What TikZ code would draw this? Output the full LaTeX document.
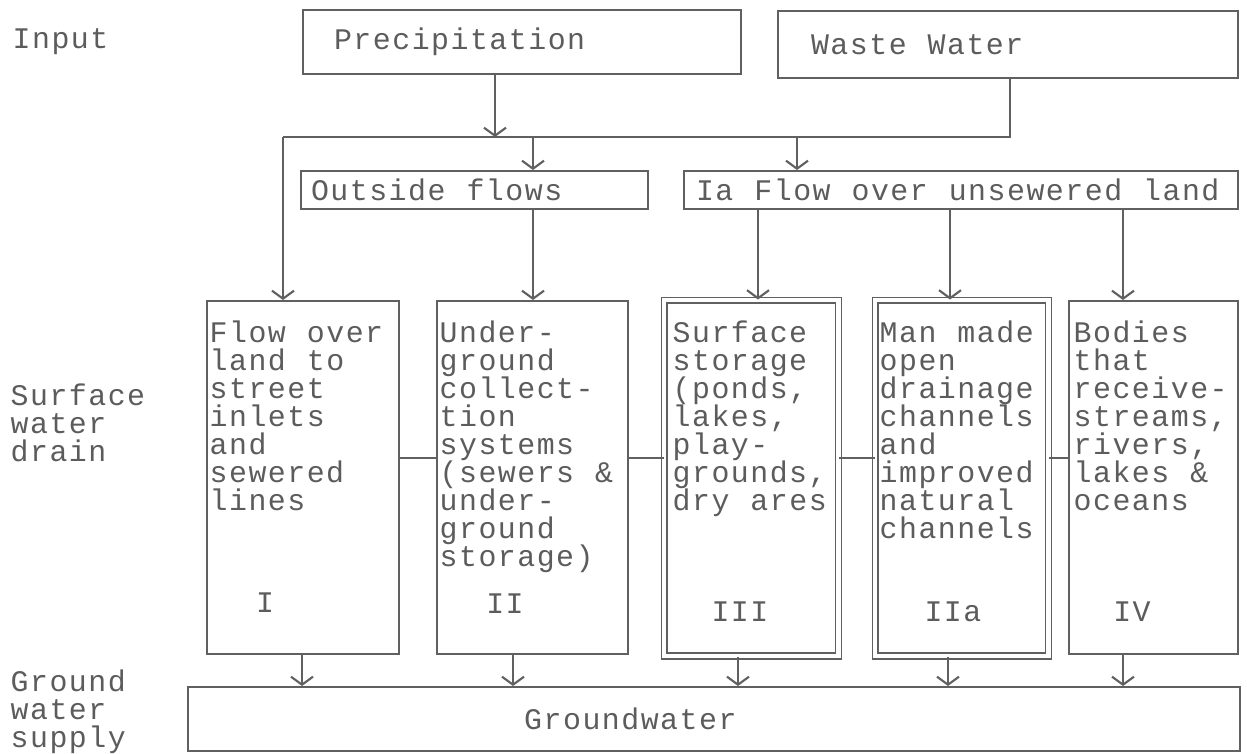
\documentclass[tikz,border=0pt]{standalone}
\usepackage{fontspec}
\setmonofont{Liberation Mono}[LetterSpace=5, WordSpace=1.08]
\usetikzlibrary{arrows.meta}
\definecolor{drainink}{RGB}{92,92,92}
\definecolor{drainline}{RGB}{96,96,96}
\tikzset{
  typed/.style={
    text=drainink,
    font=\ttfamily\fontsize{8.5}{7.97}\selectfont\lineskiplimit-20pt\relax
  },
  inbox/.style={
    typed,
    draw=drainline,
    line width=0.6pt,
    anchor=north west,
    align=flush left,
    inner ysep=0pt
  },
  colbox/.style={
    draw=drainline,
    line width=0.6pt,
    anchor=north west,
    inner sep=0pt,
    minimum height=3.53cm
  },
  storebox/.style={
    colbox,
    double,
    double distance=1.2pt,
    line width=0.5pt,
    minimum height=3.555cm
  },
  boxtext/.style={typed, anchor=north west, inner sep=0pt, align=left},
  sidelabel/.style={typed, anchor=west, inner sep=0pt, align=left},
  numeral/.style={typed, inner sep=0pt},
  arrow/.style={-{Straight Barb[length=0.8mm,width=2.2mm]}, draw=drainline, line width=0.6pt},
  link/.style={draw=drainline, line width=0.6pt}
}

\begin{document}
\begin{tikzpicture}[x=0.01cm,y=-0.01cm]
    \useasboundingbox (0,0) rectangle (1247,754);

    \node[sidelabel] (lblinput) at (12,42) {Input};
    \node[sidelabel] (lblsurface) at (10,423) {Surface\\water\\drain};
    \node[sidelabel] (lblground) at (10,712) {Ground\\water\\supply};

    \node[inbox, text width=3.76cm, inner xsep=0.31cm, minimum height=0.64cm] (precip) at (302,9) {Precipitation};
    \node[inbox, text width=3.94cm, inner xsep=0.33cm, minimum height=0.67cm] (waste) at (777,10) {Waste Water};
    \node[inbox, text width=3.27cm, inner xsep=0.10cm, minimum height=0.38cm] (outside) at (300,170) {Outside flows};
    \node[inbox, text width=5.30cm, inner xsep=0.12cm, minimum height=0.38cm] (unsew) at (683,170) {Ia Flow over unsewered land};

    \node[colbox, minimum width=1.92cm] (colI) at (206,300) {};
    \node[colbox, minimum width=1.91cm] (colII) at (436,300) {};
    \node[storebox, minimum width=1.74cm] (colIII) at (663.5,299.5) {};
    \node[storebox, minimum width=1.73cm] (colIIa) at (874.5,299.5) {};
    \node[colbox, minimum width=1.69cm] (colIV) at (1068,300) {};

    \node[boxtext] (txtI) at (209,320) {Flow over\\land to\\street\\inlets\\and\\sewered\\lines};
    \node[boxtext] (txtII) at (439,320) {Under-\\ground\\collect-\\tion\\systems\\(sewers \&\\under-\\ground\\storage)};
    \node[boxtext] (txtIII) at (672,320) {Surface\\storage\\(ponds,\\lakes,\\play-\\grounds,\\dry ares};
    \node[boxtext] (txtIIa) at (879,320) {Man made\\open\\drainage\\channels\\and\\improved\\natural\\channels};
    \node[boxtext] (txtIV) at (1073,320) {Bodies\\that\\receive-\\streams,\\rivers,\\lakes \&\\oceans};

    \node[numeral] (numI) at (265,603) {I};
    \node[numeral] (numII) at (505,604) {II};
    \node[numeral] (numIII) at (740,612) {III};
    \node[numeral] (numIIa) at (953,612) {IIa};
    \node[numeral] (numIV) at (1132,612) {IV};

    \node[inbox, text width=3.79cm, inner xsep=3.36cm, minimum height=0.64cm] (ground) at (187,686) {Groundwater};

    \coordinate (jI) at (283,137);
    \coordinate (jW) at (1010,137);
    \draw[arrow] (precip.south -| 495,0) -- (jI -| 495,0);
    \draw[link] (waste.south -| jW) -- (jW) -- (jI);
    \draw[arrow] (jI) -- (colI.north -| jI);
    \draw[arrow] (jI -| 533,0) -- (outside.north -| 533,0);
    \draw[arrow] (jI -| 797,0) -- (unsew.north -| 797,0);
    \draw[arrow] (outside.south -| 533,0) -- (colII.north -| 533,0);
    \draw[arrow] (unsew.south -| 758,0) -- (colIII.north -| 758,0);
    \draw[arrow] (unsew.south -| 950,0) -- (colIIa.north -| 950,0);
    \draw[arrow] (unsew.south -| 1123,0) -- (colIV.north -| 1123,0);

    \draw[link] (colI.east |- 0,458) -- (colII.west |- 0,458);
    \draw[link] (colII.east |- 0,458) -- (colIII.west |- 0,458);
    \draw[link] (colIII.east |- 0,458) -- (colIIa.west |- 0,458);
    \draw[link] (colIIa.east |- 0,458) -- (colIV.west |- 0,458);

    \draw[arrow] (colI.south -| 302,0) -- (ground.north -| 302,0);
    \draw[arrow] (colII.south -| 513,0) -- (ground.north -| 513,0);
    \draw[arrow] (colIII.south -| 738,0) -- (ground.north -| 738,0);
    \draw[arrow] (colIIa.south -| 948,0) -- (ground.north -| 948,0);
    \draw[arrow] (colIV.south -| 1123,0) -- (ground.north -| 1123,0);
\end{tikzpicture}
\end{document}
